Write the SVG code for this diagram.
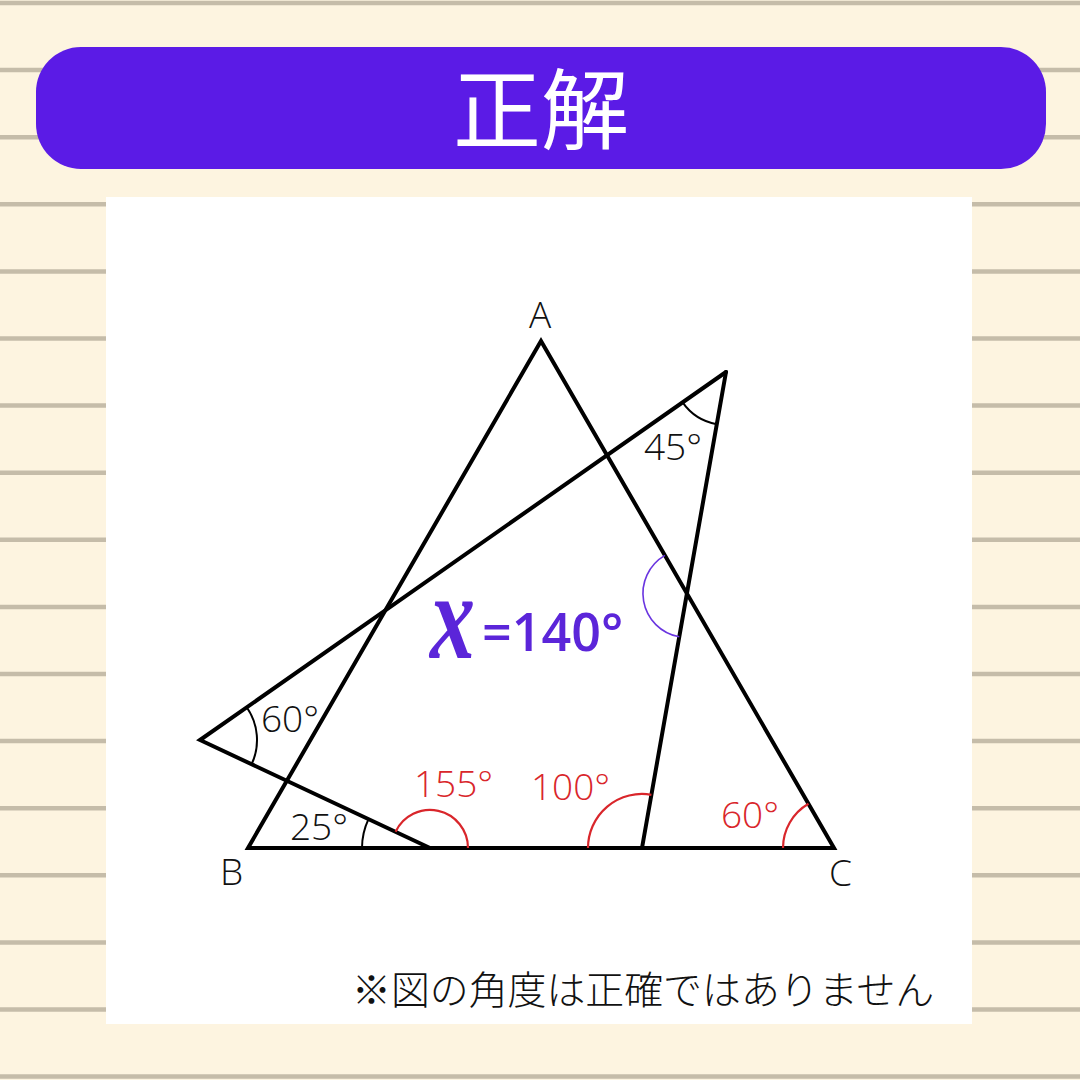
<svg xmlns="http://www.w3.org/2000/svg" width="1080" height="1080" viewBox="0 0 1080 1080">
<defs>
<style>
.stripe{stroke:#c5bca9;stroke-width:4.5}
.edge{stroke:#000;stroke-width:4;fill:none;stroke-linejoin:miter;stroke-linecap:round}
.arcb{stroke:#000;stroke-width:2;fill:none}
.arcr{stroke:#d9262b;stroke-width:2.2;fill:none}
.arcp{stroke:#6a35e0;stroke-width:1.6;fill:none}
.lbl{font-family:"Open Sans","Noto Sans","DejaVu Sans",sans-serif;font-weight:300;font-size:37px}
.blk{fill:#111}
.red{fill:#d9262b}
</style>
</defs>
<rect width="1080" height="1080" fill="#fdf4e0"/>
<g id="stripes">
<path class="stripe" d="M0 3H1080M0 70.1H1080M0 137.2H1080M0 204.3H1080M0 271.4H1080M0 338.5H1080M0 405.6H1080M0 472.7H1080M0 539.8H1080M0 606.9H1080M0 674H1080M0 741.1H1080M0 808.2H1080M0 875.3H1080M0 942.4H1080M0 1009.5H1080M0 1076.6H1080"/>
</g>
<g id="header">
<rect x="36" y="47" width="1010" height="122" rx="45" ry="45" fill="#5b1be6"/>
<text x="541" y="142" text-anchor="middle" font-family="'Noto Sans CJK JP','Noto Sans CJK SC',sans-serif" font-size="88" fill="#fff">正解</text>
</g>
<rect id="panel" x="106" y="197" width="866" height="827" fill="#fff"/>
<g id="connectors">
<path class="edge" d="M541 341L248 848H834Z"/>
<path class="edge" d="M726 372L200 740L430 848"/>
<path class="edge" d="M726 372L642 848"/>
</g>
<g id="angles">
<path class="arcb" d="M246.7 707.3A57 57 0 0 1 251.6 764.2"/>
<path class="arcb" d="M362 848A68 68 0 0 1 368.5 819.1"/>
<path class="arcb" d="M716.8 424.2A53 53 0 0 1 682.6 402.4"/>
<path class="arcr" d="M468 848A38 38 0 0 0 395.6 831.8"/>
<path class="arcr" d="M588 848A54 54 0 0 1 651.4 794.8"/>
<path class="arcr" d="M783 848A51 51 0 0 1 808.5 803.8"/>
<path class="arcp" d="M679.3 636.8A44 44 0 0 1 664.9 555.4"/>
</g>
<g id="labels">
<text class="lbl blk" x="540" y="328" text-anchor="middle">A</text>
<text class="lbl blk" x="220" y="885">B</text>
<text class="lbl blk" x="829" y="886">C</text>
<text class="lbl blk" x="261" y="732">60°</text>
<text class="lbl blk" x="290" y="840">25°</text>
<text class="lbl blk" x="644" y="460">45°</text>
<text class="lbl red" x="414" y="797">155°</text>
<text class="lbl red" x="531" y="800">100°</text>
<text class="lbl red" x="721" y="828">60°</text>
</g>
<g id="answer" fill="#5b25d9">
<text transform="translate(430 658) scale(0.9 1.22)" font-family="'Liberation Serif',serif" font-style="italic" font-weight="bold" font-size="100">x</text>
<text x="482" y="651" font-family="'Open Sans','Noto Sans',sans-serif" font-weight="600" font-size="52">=140°</text>
</g>
<text id="note" x="352" y="1004" font-family="'Noto Sans CJK JP',sans-serif" font-weight="300" font-size="38.9" fill="#111">※図の角度は正確ではありません</text>
</svg>
